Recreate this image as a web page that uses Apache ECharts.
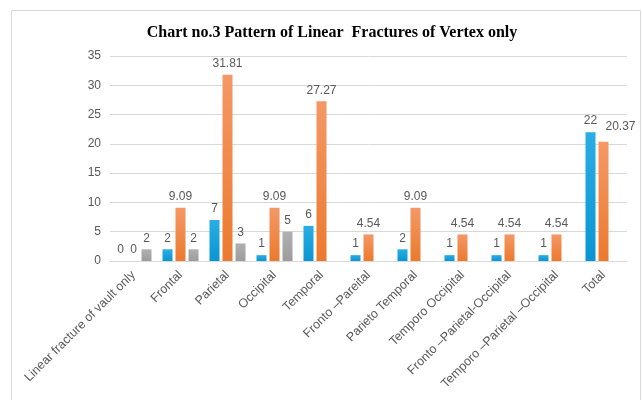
<!DOCTYPE html>
<html>
<head>
<meta charset="utf-8">
<script src="https://cdn.jsdelivr.net/npm/echarts@6/dist/echarts.min.js"></script>
<style>
  html, body { margin: 0; padding: 0; background: #fff; }
  #chart { width: 642px; height: 400px; }
</style>
</head>
<body>
<div id="chart"></div>
<script>
// Fracture sites along the category axis
const categories = [
  'Linear fracture of vault only', 'Frontal', 'Parietal', 'Occipital', 'Temporal',
  'Fronto \u2013Pareital', 'Parieto Temporal', 'Temporo Occipital',
  'Fronto \u2013Parietal-Occipital', 'Temporo \u2013Parietal \u2013Occipital', 'Total'
];
// Three series per site
const countValues   = [0, 2, 7, 1, 6, 1, 2, 1, 1, 1, 22];
const percentValues = [0, 9.09, 31.81, 9.09, 27.27, 4.54, 9.09, 4.54, 4.54, 4.54, 20.37];
const otherValues   = [2, 2, 3, 5, null, null, null, null, null, null, null];
const yTicks = { min: 0, max: 35, interval: 5 };

const chart = echarts.init(document.getElementById('chart'), null, { renderer: 'canvas' });

function grad(top, bottom) {
  return new echarts.graphic.LinearGradient(0, 0, 0, 1, [
    { offset: 0, color: top }, { offset: 1, color: bottom }
  ]);
}

const labelStyle = {
  show: true, position: 'top', distance: 5,
  color: '#595959', fontSize: 12, fontFamily: 'Liberation Sans'
};

function barSeries(name, data, color, shifted) {
  return {
    name, type: 'bar',
    // the last-category label is nudged right so it clears its neighbour
    data: data.map((v, i) => (shifted && i === data.length - 1)
      ? { value: v, label: { offset: [17, -4] } } : v),
    barWidth: 10, barGap: '30%',
    itemStyle: { color },
    label: labelStyle,
    animation: false
  };
}

chart.setOption({
  animation: false,
  title: {
    text: 'Chart no.3 Pattern of Linear  Fractures of Vertex only',
    left: 327, textAlign: 'center', top: 20,
    textStyle: { fontFamily: 'Liberation Serif', fontWeight: 'bold', fontSize: 16, color: '#000' }
  },
  graphic: [{
    type: 'rect', silent: true, z: -1,
    shape: { x: 11.5, y: 10.5, width: 629, height: 400 },
    style: { fill: 'none', stroke: '#D9D9D9', lineWidth: 1 }
  }],
  grid: { left: 110, right: 15, top: 56, bottom: 139 },
  xAxis: {
    type: 'category', data: categories,
    axisLine: { lineStyle: { color: '#D9D9D9' } },
    axisTick: { show: false },
    axisLabel: {
      interval: 0, rotate: 45, margin: 12,
      color: '#595959', fontSize: 12.5, fontFamily: 'Liberation Sans'
    }
  },
  yAxis: {
    type: 'value', min: yTicks.min, max: yTicks.max, interval: yTicks.interval,
    axisLine: { show: false }, axisTick: { show: false },
    splitLine: { lineStyle: { color: '#D9D9D9' } },
    axisLabel: { color: '#595959', fontSize: 12, fontFamily: 'Liberation Sans', margin: 9 }
  },
  series: [
    barSeries('count', countValues, grad('#2AAEE4', '#0A95D2'), false),
    barSeries('percent', percentValues, grad('#F49866', '#EC7A2E'), true),
    barSeries('other', otherValues, grad('#B0B0B0', '#9C9C9C'), false)
  ]
});
</script>
</body>
</html>
